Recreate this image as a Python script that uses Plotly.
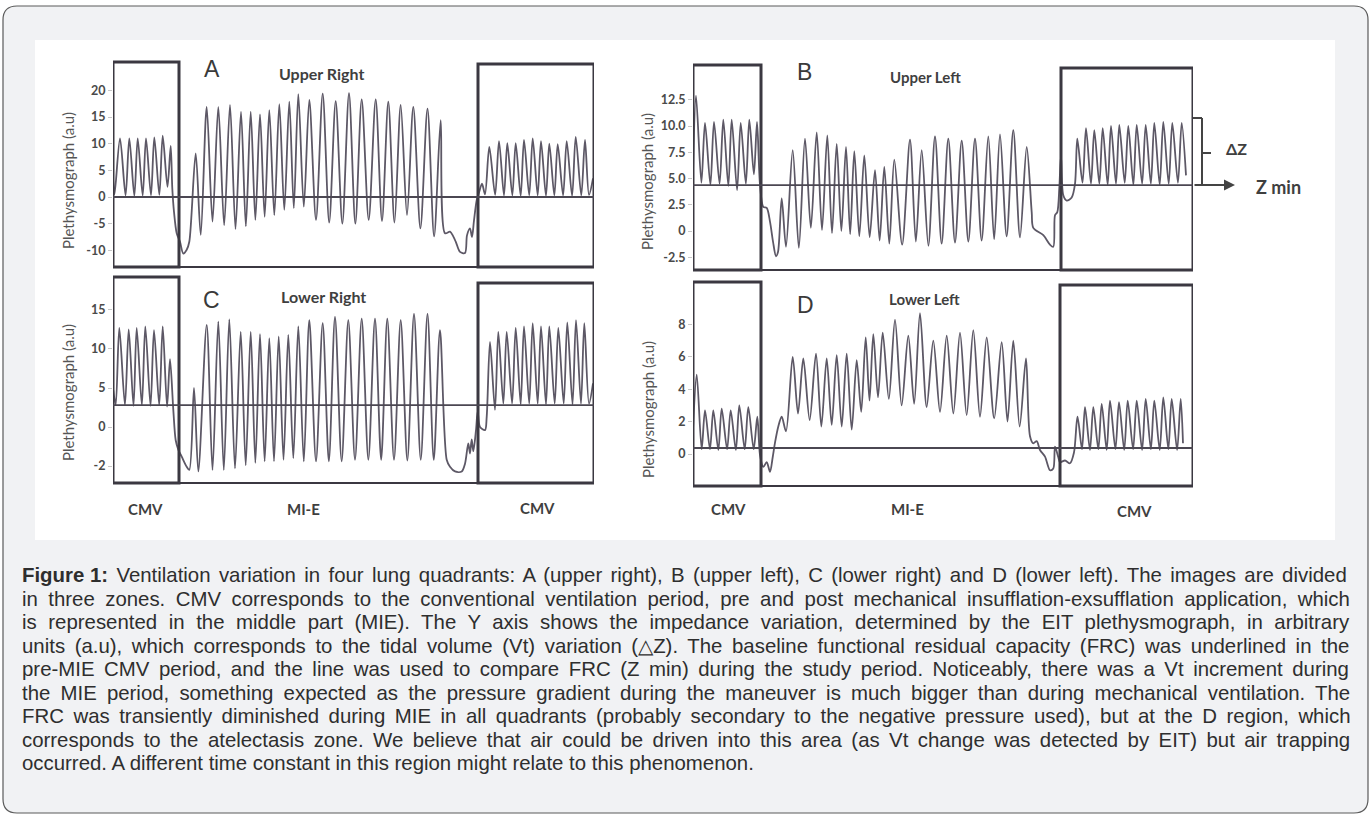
import plotly.graph_objects as go

W, H = 1371, 818
def X(px): return px / W
def Y(py): return 1 - py / H

# ---------------- DATA (time in samples from panel start, value in a.u) ----------------
# Panel A - Upper Right
a_pre_t = [0, 1.5]
a_pre_v = [3.5, 0.5]
a_cmv1_t = [7, 16.3, 24.7, 33, 41.3, 49.7, 57.7]
a_cmv1_pk = [11.0, 11.0, 11.0, 11.0, 11.2, 11.5, 9.6]
a_cmv1_tr = [0.3, 0.2, 0.3, 0.3, 0.4, 1.9]
a_tr1_t = [59.3, 61, 63.7, 67, 70.3, 73.7, 76.3, 82.7, 87.7]
a_tr1_v = [1.6, -2.8, -6.8, -8.4, -10.6, -9.9, -8.4, 8.2, -7.1]
a_mie_t = [93.7, 105.3, 117, 128, 137.7, 147, 156.3, 166.3, 176.3, 185.3, 196.3,
           209.7, 222.7, 236, 248.7, 262.7, 275.3, 287.7, 300.3, 314.5, 327.7]
a_mie_pk = [16.9, 16.9, 17.3, 16.0, 16.0, 15.5, 16.3, 17.4, 17.9, 19.3, 18.2,
            19.4, 18.0, 19.5, 18.3, 18.3, 17.9, 17.3, 16.9, 16.6, 14.4]
a_mie_tr = [-4.6, -5.3, -6.0, -5.5, -4.3, -3.7, -3.4, -2.4, -2.1, -1.8,
            -4.3, -4.8, -5.0, -5.0, -4.3, -4.5, -4.8, -3.4, -5.9, -7.4]
a_tr2_t = [332, 337, 340, 343, 347, 352, 354, 357, 359, 361, 363.7, 366, 369, 372]
a_tr2_v = [-6.8, -6.5, -7.3, -8.5, -10.3, -10.5, -7.2, -5.9, -7.5, -4.4, -0.6, 0.8, 2.5, 0.5]
a_cmv2_t = [376.3, 386, 394.3, 402.7, 411, 419.7, 428, 436.3, 444.7, 453.7, 462.7, 472]
a_cmv2_pk = [9.4, 10.5, 10.1, 10.1, 10.7, 11.0, 10.5, 10.0, 9.9, 10.5, 11.3, 10.7]
a_cmv2_tr = [0.4, 0.3, 0.3, 0.2, 0.3, 0.3, 0.2, 0.3, 0.3, 0.2, 0.3]
a_post_t = [476, 480]
a_post_v = [0.4, 3.5]

# Panel B - Upper Left
b_pre_t = [0]
b_pre_v = [5.5]
b_cmv1_t = [3, 12, 21, 30.3, 38.7, 47.7, 56.3, 64]
b_cmv1_pk = [12.9, 10.3, 10.4, 10.6, 10.6, 10.3, 10.6, 10.4]
b_cmv1_tr = [4.6, 4.4, 4.5, 4.3, 3.9, 4.5, 5.4]
b_tr1_t = [67, 70.3, 73.7, 77, 80, 83, 85, 88.7, 93]
b_tr1_v = [4.4, 2.3, 2.2, 0.9, -1.0, -2.4, -2.0, 3.1, -1.5]
b_mie_t = [99.7, 112, 123.7, 134.3, 143.7, 153, 161.3, 171.3, 182, 191.3, 201.3,
           217, 228.7, 242, 255.3, 268.7, 282, 295.3, 307, 320.3, 333.7]
b_mie_pk = [7.7, 8.8, 9.4, 9.1, 8.3, 8.0, 7.6, 7.2, 5.8, 6.1, 6.8,
            8.7, 7.7, 9.0, 8.8, 8.6, 8.8, 9.0, 9.2, 9.6, 8.0]
b_mie_tr = [-1.6, 0.3, 0.1, -0.2, 0.0, -0.3, -0.5, -0.6, -0.9, -1.2,
            -1.3, -1.0, -1.4, -1.2, -1.1, -1.0, -0.9, -0.8, -0.5, -0.6]
b_tr2_t = [338.7, 340.3, 350.3, 357, 360.3, 362, 364.3, 366.3, 368, 370.3, 373.7, 378.7, 382]
b_tr2_v = [1.8, 0.3, -0.4, -1.3, -1.5, 1.5, 1.8, 4.1, 7.2, 3.4, 2.9, 3.2, 4.5]
b_cmv2_t = [384.3, 393, 401.3, 409.7, 418, 426.3, 435.3, 443.7, 452.7, 461.3, 470.3, 479.3, 488.7]
b_cmv2_pk = [8.8, 9.8, 9.6, 9.8, 10.0, 10.1, 10.0, 10.1, 10.1, 10.3, 10.4, 10.3, 10.3]
b_cmv2_tr = [4.6, 4.5, 4.5, 4.4, 4.5, 4.6, 4.4, 4.5, 4.5, 4.4, 4.5, 4.6]
b_post_t = [493]
b_post_v = [5.3]

# Panel C - Lower Right
c_pre_t = [0.3, 2.7]
c_pre_v = [4.7, 2.8]
c_cmv1_t = [6.3, 15.7, 23.7, 32.3, 41, 49.7, 57]
c_cmv1_pk = [12.7, 12.5, 12.7, 12.9, 12.4, 12.9, 8.7]
c_cmv1_tr = [2.8, 2.7, 2.8, 2.7, 2.8, 2.6]
c_tr1_t = [60.3, 62.7, 65.3, 68.7, 73.7, 76.3, 81, 85.3]
c_tr1_v = [2.2, -1.7, -2.9, -3.8, -5.1, -5.5, 5.0, -5.7]
c_mie_t = [93.7, 105.3, 116.3, 127.7, 137.7, 147, 156.3, 165.7, 175.3, 185.3, 196.3,
           209.7, 222, 235.3, 248.7, 262, 274.3, 287.7, 301, 314.5, 327]
c_mie_pk = [13.1, 13.5, 13.8, 12.2, 12.2, 11.9, 11.4, 11.6, 11.8, 12.9, 13.7,
            13.3, 14.1, 13.7, 13.9, 13.9, 13.9, 13.7, 14.5, 14.5, 12.4]
c_mie_tr = [-5.5, -5.5, -5.3, -4.9, -4.6, -4.4, -4.4, -4.2, -4.0, -4.4,
            -4.4, -4.4, -4.4, -4.2, -4.2, -4.2, -4.2, -4.3, -4.2, -4.2]
c_tr2_t = [333.7, 337, 342, 348.7, 352, 355.3, 357, 358.7, 360.3, 363, 364.7, 367, 372, 373.7]
c_tr2_v = [-4.2, -5.1, -5.7, -5.7, -4.7, -2.1, -3.4, -1.6, -3.1, -0.4, 2.0, 0.0, -0.4, 1.3]
c_cmv2_t = [377, 385.3, 393.7, 402.7, 411, 419.7, 428, 436.3, 445.3, 454.3, 463, 471.3]
c_cmv2_pk = [10.9, 12.2, 12.2, 12.7, 12.9, 13.3, 12.9, 12.9, 12.7, 13.4, 13.7, 13.3]
c_cmv2_tr = [2.2, 3.0, 3.0, 2.9, 3.0, 3.0, 2.9, 3.0, 3.0, 2.9, 3.0]
c_post_t = [476, 480]
c_post_v = [3.0, 5.6]

# Panel D - Lower Left
d_pre_t = [0]
d_pre_v = [1.5]
d_cmv1_t = [3.7, 12, 20.3, 28.7, 37.7, 46.3, 55.3, 64.3]
d_cmv1_pk = [4.9, 2.7, 2.7, 2.8, 2.7, 3.0, 2.9, 2.3]
d_cmv1_tr = [0.3, 0.3, 0.25, 0.3, 0.25, 0.3, 0.3]
d_tr1_t = [67, 70.3, 73.7, 77, 79.7, 82, 85.3, 88.7, 93]
d_tr1_v = [-0.06, -0.8, -0.5, -1.1, -0.2, 0.7, 1.7, 2.3, 1.4]
d_mie_t = [99.7, 110.3, 123, 133.7, 143.7, 153.7, 163.7, 172.7, 180.3, 189.7, 202,
           215.3, 227, 240.3, 253.7, 267, 280.3, 293.7, 308.7, 320.3, 333]
d_mie_pk = [6.0, 5.9, 6.2, 5.9, 6.1, 6.2, 5.8, 7.2, 7.4, 7.5, 8.3,
            7.3, 8.7, 7.0, 7.3, 7.5, 7.65, 7.2, 6.9, 7.0, 5.9]
d_mie_tr = [2.5, 2.1, 1.7, 1.8, 1.7, 1.5, 2.6, 3.3, 3.5, 3.4,
            3.0, 3.1, 2.9, 2.6, 2.5, 2.4, 2.3, 2.2, 2.0, 1.7]
d_tr2_t = [337, 340.3, 343.7, 347, 352, 357, 360.3, 362, 365.3, 367, 372, 377, 381]
d_tr2_v = [1.1, 0.66, 0.8, 0.25, -0.16, -1.0, -0.9, 0.45, -0.2, -0.5, -0.4, -0.57, 0.1]
d_cmv2_t = [384.5, 392, 400.3, 408.7, 417, 426, 434.7, 443.7, 452.7, 461.3, 470.3, 478.7, 487.7]
d_cmv2_pk = [2.3, 2.9, 2.9, 3.1, 3.3, 3.2, 3.3, 3.3, 3.4, 3.3, 3.5, 3.4, 3.4]
d_cmv2_tr = [0.3, 0.25, 0.3, 0.25, 0.3, 0.25, 0.3, 0.25, 0.3, 0.25, 0.3, 0.25]
d_post_t = [490]
d_post_v = [0.66]

# Baselines (Z min) per panel
baseline = {"A": 0.0, "B": 4.38, "C": 2.8, "D": 0.37}

tick_vals = {"A": [-10, -5, 0, 5, 10, 15, 20],
             "B": [-2.5, 0, 2.5, 5, 7.5, 10, 12.5],
             "C": [-5, 0, 5, 10, 15],
             "D": [-2, 0, 2, 4, 6, 8]}
tick_text = {"A": ["-10", "-5", "0", "5", "10", "15", "20"],
             "B": ["-2.5", "0", "2.5", "5.0", "7.5", "10.0", "12.5"],
             "C": ["-2", "0", "5", "10", "15"],
             "D": ["-2", "0", "2", "4", "6", "8"]}

caption_head = "Figure 1:"
caption_lines = [
    " Ventilation variation in four lung quadrants: A (upper right), B (upper left), C (lower right) and D (lower left). The images are divided",
    "in three zones. CMV corresponds to the conventional ventilation period, pre and post mechanical insufflation-exsufflation application, which",
    "is represented in the middle part (MIE). The Y axis shows the impedance variation, determined by the EIT plethysmograph, in arbitrary",
    "units (a.u), which corresponds to the tidal volume (Vt) variation (\u25b3Z). The baseline functional residual capacity (FRC) was underlined in the",
    "pre-MIE CMV period, and the line was used to compare FRC (Z min) during the study period. Noticeably, there was a Vt increment during",
    "the MIE period, something expected as the pressure gradient during the maneuver is much bigger than during mechanical ventilation. The",
    "FRC was transiently diminished during MIE in all quadrants (probably secondary to the negative pressure used), but at the D region, which",
    "corresponds to the atelectasis zone. We believe that air could be driven into this area (as Vt change was detected by EIT) but air trapping",
    "occurred. A different time constant in this region might relate to this phenomenon.",
]

# ---------------- BUILD ----------------
def periodic(pk_t, pk_v, tr_v, frac):
    t, v = [], []
    for i in range(len(pk_t)):
        t.append(pk_t[i]); v.append(pk_v[i])
        if i < len(pk_t) - 1:
            t.append(pk_t[i] + frac * (pk_t[i + 1] - pk_t[i])); v.append(tr_v[i])
    return t, v

def assemble(pre_t, pre_v, c1t, c1p, c1r, t1t, t1v, mt, mp, mr, t2t, t2v, c2t, c2p, c2r, pt, pv):
    T, V = list(pre_t), list(pre_v)
    for (tt, vv) in [periodic(c1t, c1p, c1r, 0.6), (t1t, t1v), periodic(mt, mp, mr, 0.5),
                     (t2t, t2v), periodic(c2t, c2p, c2r, 0.6), (pt, pv)]:
        T += list(tt); V += list(vv)
    return T, V

series = {
    "A": assemble(a_pre_t, a_pre_v, a_cmv1_t, a_cmv1_pk, a_cmv1_tr, a_tr1_t, a_tr1_v, a_mie_t, a_mie_pk, a_mie_tr,
                  a_tr2_t, a_tr2_v, a_cmv2_t, a_cmv2_pk, a_cmv2_tr, a_post_t, a_post_v),
    "B": assemble(b_pre_t, b_pre_v, b_cmv1_t, b_cmv1_pk, b_cmv1_tr, b_tr1_t, b_tr1_v, b_mie_t, b_mie_pk, b_mie_tr,
                  b_tr2_t, b_tr2_v, b_cmv2_t, b_cmv2_pk, b_cmv2_tr, b_post_t, b_post_v),
    "C": assemble(c_pre_t, c_pre_v, c_cmv1_t, c_cmv1_pk, c_cmv1_tr, c_tr1_t, c_tr1_v, c_mie_t, c_mie_pk, c_mie_tr,
                  c_tr2_t, c_tr2_v, c_cmv2_t, c_cmv2_pk, c_cmv2_tr, c_post_t, c_post_v),
    "D": assemble(d_pre_t, d_pre_v, d_cmv1_t, d_cmv1_pk, d_cmv1_tr, d_tr1_t, d_tr1_v, d_mie_t, d_mie_pk, d_mie_tr,
                  d_tr2_t, d_tr2_v, d_cmv2_t, d_cmv2_pk, d_cmv2_tr, d_post_t, d_post_v),
}

panels = {
    "A": dict(ax="", x0=113, x1=594, yt=62, yb=267, yr=[-13.13, 25.33], xr=[0, 481], lb=66, rb=365, rtop=0.99),
    "B": dict(ax="2", x0=693, x1=1193, yt=65, yb=270, yr=[-3.71, 15.81], xr=[0, 500], lb=68, rb=368, rtop=0.985),
    "C": dict(ax="3", x0=113, x1=594, yt=277, yb=483, yr=[-7.18, 19.23], xr=[0, 481], lb=66, rb=365, rtop=0.971),
    "D": dict(ax="4", x0=693, x1=1193, yt=282, yb=486, yr=[-1.975, 10.62], xr=[0, 500], lb=68, rb=367, rtop=0.985),
}

fig = go.Figure()
shapes = []
BOX = "#3b3841"
LINE = "#4b4752"
TRACE = "#5d5866"

r = 14
x0, x1, y0, y1 = 3, 1368, 6, 813
path = (f"M {X(x0 + r)},{Y(y0)} L {X(x1 - r)},{Y(y0)} Q {X(x1)},{Y(y0)} {X(x1)},{Y(y0 + r)} "
        f"L {X(x1)},{Y(y1 - r)} Q {X(x1)},{Y(y1)} {X(x1 - r)},{Y(y1)} "
        f"L {X(x0 + r)},{Y(y1)} Q {X(x0)},{Y(y1)} {X(x0)},{Y(y1 - r)} "
        f"L {X(x0)},{Y(y0 + r)} Q {X(x0)},{Y(y0)} {X(x0 + r)},{Y(y0)} Z")
shapes.append(dict(type="path", xref="paper", yref="paper", path=path, fillcolor="#f1f2f4",
                   line=dict(color="#5a5a5a", width=1.2), layer="below"))
shapes.append(dict(type="rect", xref="paper", yref="paper", x0=X(35), x1=X(1335), y0=Y(540), y1=Y(40),
                   fillcolor="#ffffff", line=dict(width=0), layer="below"))

layout_axes = {}
for key, p in panels.items():
    ax = p["ax"]
    xa, ya = "x" + ax, "y" + ax
    t, v = series[key]
    fig.add_trace(go.Scatter(x=t, y=v, mode="lines", xaxis=xa, yaxis=ya,
                             line=dict(color=TRACE, width=1.8, shape="spline", smoothing=0.85),
                             hoverinfo="skip", showlegend=False))
    layout_axes["xaxis" + ax] = dict(domain=[X(p["x0"]), X(p["x1"])], range=p["xr"], anchor=ya,
                                     showgrid=False, zeroline=False, showline=False,
                                     showticklabels=False, ticks="", fixedrange=True)
    layout_axes["yaxis" + ax] = dict(domain=[Y(p["yb"]), Y(p["yt"])], range=p["yr"], anchor=xa,
                                     showgrid=False, zeroline=False, showline=False,
                                     tickvals=tick_vals[key], ticktext=tick_text[key],
                                     ticks="outside", ticklen=4, tickcolor="#c8c8c8", tickwidth=1,
                                     tickfont=dict(family="Lato", size=12.5, color="#4a4a4a", weight="bold"),
                                     fixedrange=True)
    shapes.append(dict(type="rect", xref=xa, yref=ya + " domain", x0=0, x1=p["lb"], y0=0, y1=1,
                       line=dict(color=BOX, width=3), fillcolor="rgba(0,0,0,0)", layer="above"))
    shapes.append(dict(type="rect", xref=xa, yref=ya + " domain", x0=p["rb"], x1=p["xr"][1], y0=0, y1=p["rtop"],
                       line=dict(color=BOX, width=3), fillcolor="rgba(0,0,0,0)", layer="above"))
    shapes.append(dict(type="line", xref=xa, yref=ya + " domain", x0=0, x1=p["xr"][1], y0=0, y1=0,
                       line=dict(color=BOX, width=2.2), layer="above"))
    shapes.append(dict(type="line", xref=xa, yref=ya, x0=0, x1=p["xr"][1], y0=baseline[key], y1=baseline[key],
                       line=dict(color=LINE, width=1.8), layer="above"))

for (px0, py0, px1, py1) in [(1193, 118, 1202, 118), (1202, 118, 1202, 185), (1202, 153, 1211, 153)]:
    shapes.append(dict(type="line", xref="paper", yref="paper", x0=X(px0), y0=Y(py0), x1=X(px1), y1=Y(py1),
                       line=dict(color="#444444", width=2)))

ann = []
def txt(s, px, py, size, family="Lato", bold=True, color="#3f3f3f", angle=0, xanchor="center"):
    ann.append(dict(text=s, x=X(px), y=Y(py), xref="paper", yref="paper", showarrow=False,
                    xanchor=xanchor, yanchor="middle", textangle=angle,
                    font=dict(family=family, size=size, color=color, weight="bold" if bold else "normal")))

ann.append(dict(text="", x=542, y=baseline["B"], ax=500, ay=baseline["B"], xref="x2", yref="y2",
                axref="x2", ayref="y2", showarrow=True, arrowhead=2, arrowsize=1.1, arrowwidth=2,
                arrowcolor="#444444"))

txt("A", 211.7, 69, 23, family="Liberation Sans", bold=False, color="#3a3a3a")
txt("Upper Right", 321.5, 73, 16)
txt("B", 804, 72, 23, family="Liberation Sans", bold=False, color="#3a3a3a")
txt("Upper Left", 925, 77, 15)
txt("C", 211, 300, 23, family="Liberation Sans", bold=False, color="#3a3a3a")
txt("Lower Right", 323, 296, 16)
txt("D", 805, 305, 23, family="Liberation Sans", bold=False, color="#3a3a3a")
txt("Lower Left", 924, 299, 15)
for (s, px, py) in [("CMV", 145, 509), ("MI-E", 303, 509), ("CMV", 537, 508),
                    ("CMV", 728, 509), ("MI-E", 907, 509), ("CMV", 1134, 511)]:
    txt(s, px, py, 15)
for (px, py) in [(68, 181), (647, 182), (68, 393), (648, 410)]:
    txt("Plethysmograph (a.u)", px, py, 15, bold=False, color="#555555", angle=-90)
txt("\u0394Z", 1236, 148, 16)
txt("Z min", 1278, 187, 18)

# ---- caption: justified by measuring with Arial/Liberation Sans advance widths ----
AW = {" ": 278, "(": 333, ")": 333, ",": 278, "-": 333, ".": 278, ":": 278, "\u25b3": 770}
for c in "0123456789":
    AW[c] = 556
AW.update(dict(zip("ABCDEFGHIJKLMNOPQRSTUVWXYZ",
                   [667, 667, 722, 722, 667, 611, 778, 722, 278, 500, 667, 556, 833, 722, 778, 667, 778, 722,
                    667, 611, 722, 667, 944, 667, 667, 611])))
AW.update(dict(zip("abcdefghijklmnopqrstuvwxyz",
                   [556, 556, 500, 556, 556, 278, 556, 556, 222, 222, 500, 222, 833, 556, 556, 556, 556, 333,
                    500, 278, 556, 500, 722, 500, 500, 500])))
AWB = {"F": 611, "i": 278, "g": 611, "u": 611, "r": 389, "e": 556, " ": 278, "1": 556, ":": 333}

CAP_SIZE = 20.4
CAP_LEFT, CAP_RIGHT = 20, 1349
CAP_Y0, CAP_DY = 575, 23.5
for i, line in enumerate(caption_lines):
    width = sum(AW.get(ch, 556) for ch in line) * CAP_SIZE / 1000
    if i == 0:
        width += sum(AWB[ch] for ch in caption_head) * CAP_SIZE / 1000
    n_sp = line.count(" ")
    if i < len(caption_lines) - 1 and n_sp:
        ws = max(0.0, (CAP_RIGHT - CAP_LEFT - width) / n_sp)
    else:
        ws = 0.0
    body = f'<span style="word-spacing:{ws:.2f}px">{line}</span>'
    text = (f"<b>{caption_head}</b>" + body) if i == 0 else body
    ann.append(dict(text=text, x=X(CAP_LEFT), y=Y(CAP_Y0 + CAP_DY * i), xref="paper", yref="paper",
                    showarrow=False, xanchor="left", yanchor="middle",
                    font=dict(family="Liberation Sans, Arial", size=CAP_SIZE, color="#2e2e2e")))

fig.update_layout(width=W, height=H, autosize=False, margin=dict(l=0, r=0, t=0, b=0),
                  paper_bgcolor="#ffffff", plot_bgcolor="rgba(0,0,0,0)",
                  shapes=shapes, annotations=ann, showlegend=False, hovermode=False, **layout_axes)

fig.write_html("out.html", config={"displayModeBar": False, "staticPlot": True},
               post_script="document.body.style.margin='0';document.body.style.overflow='hidden';")
